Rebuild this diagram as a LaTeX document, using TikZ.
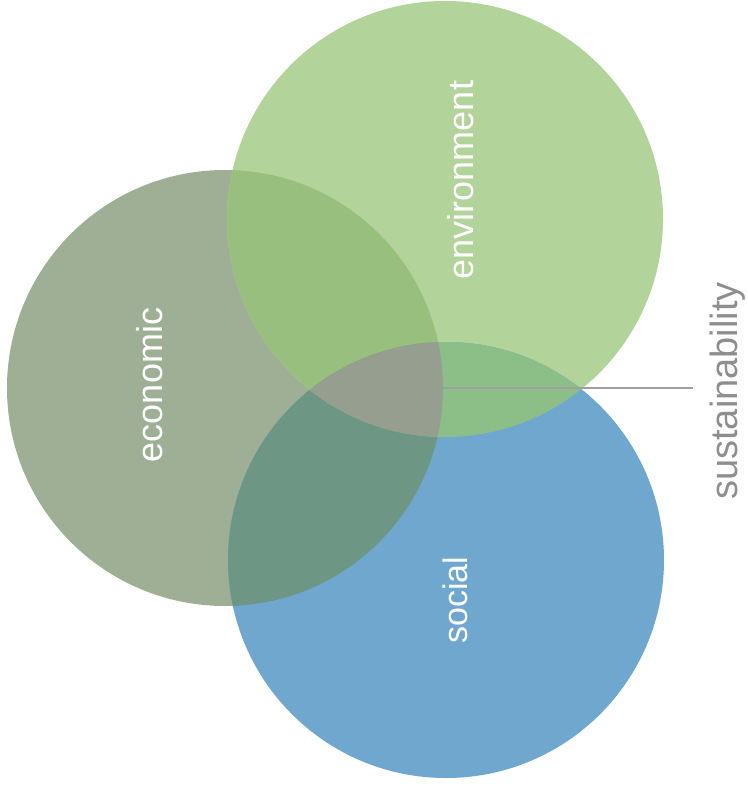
\documentclass[tikz,border=0pt]{standalone}
\usepackage{fontspec}
\setmainfont{Liberation Sans}
\begin{document}
\begin{tikzpicture}[x=1pt,y=-1pt,
  ring/.style={circle,minimum size=436pt,inner sep=0pt,draw=none},
  label/.style={rotate=90,anchor=base,text=white,font=\fontsize{36}{36}\selectfont},
  lead/.style={draw=gray!75,line width=1.6pt}]
\useasboundingbox (0,0) rectangle (747,789);
\definecolor{envc}{HTML}{B2D39A}
\definecolor{ecoc}{HTML}{9EAF95}
\definecolor{socc}{HTML}{6FA7CF}
\definecolor{envecoc}{HTML}{99BF7F}
\definecolor{ecosocc}{HTML}{6E9685}
\definecolor{envsocc}{HTML}{8CBF87}
\definecolor{allc}{HTML}{959E8F}
\definecolor{sustc}{HTML}{8E8E8E}

% the three circles
\node[ring,fill=ecoc] (eco) at (225,388) {};
\node[ring,fill=envc] (env) at (445,219) {};
\node[ring,fill=socc] (soc) at (446,560) {};

% pairwise overlaps and the common core
\begin{scope}
  \clip (225,388) circle (218);
  \fill[envecoc] (445,219) circle (218);
  \fill[ecosocc] (446,560) circle (218);
\end{scope}
\begin{scope}
  \clip (445,219) circle (218);
  \fill[envsocc] (446,560) circle (218);
  \clip (225,388) circle (218);
  \fill[allc] (446,560) circle (218);
\end{scope}

% pointer to the common core
\coordinate (tip) at (693,388);
\draw[lead] (eco.east) -- (tip);

% labels
\node[label] (ecot) at (162,385) {economic};
\node[label] (envt) at (473,180) {environment};
\node[label,font=\fontsize{34}{34}\selectfont] (soct) at (467,600) {social};
\node[label,text=sustc,font=\fontsize{38}{38}\selectfont] (sust) at (737,391) {sustainability};
\end{tikzpicture}
\end{document}
